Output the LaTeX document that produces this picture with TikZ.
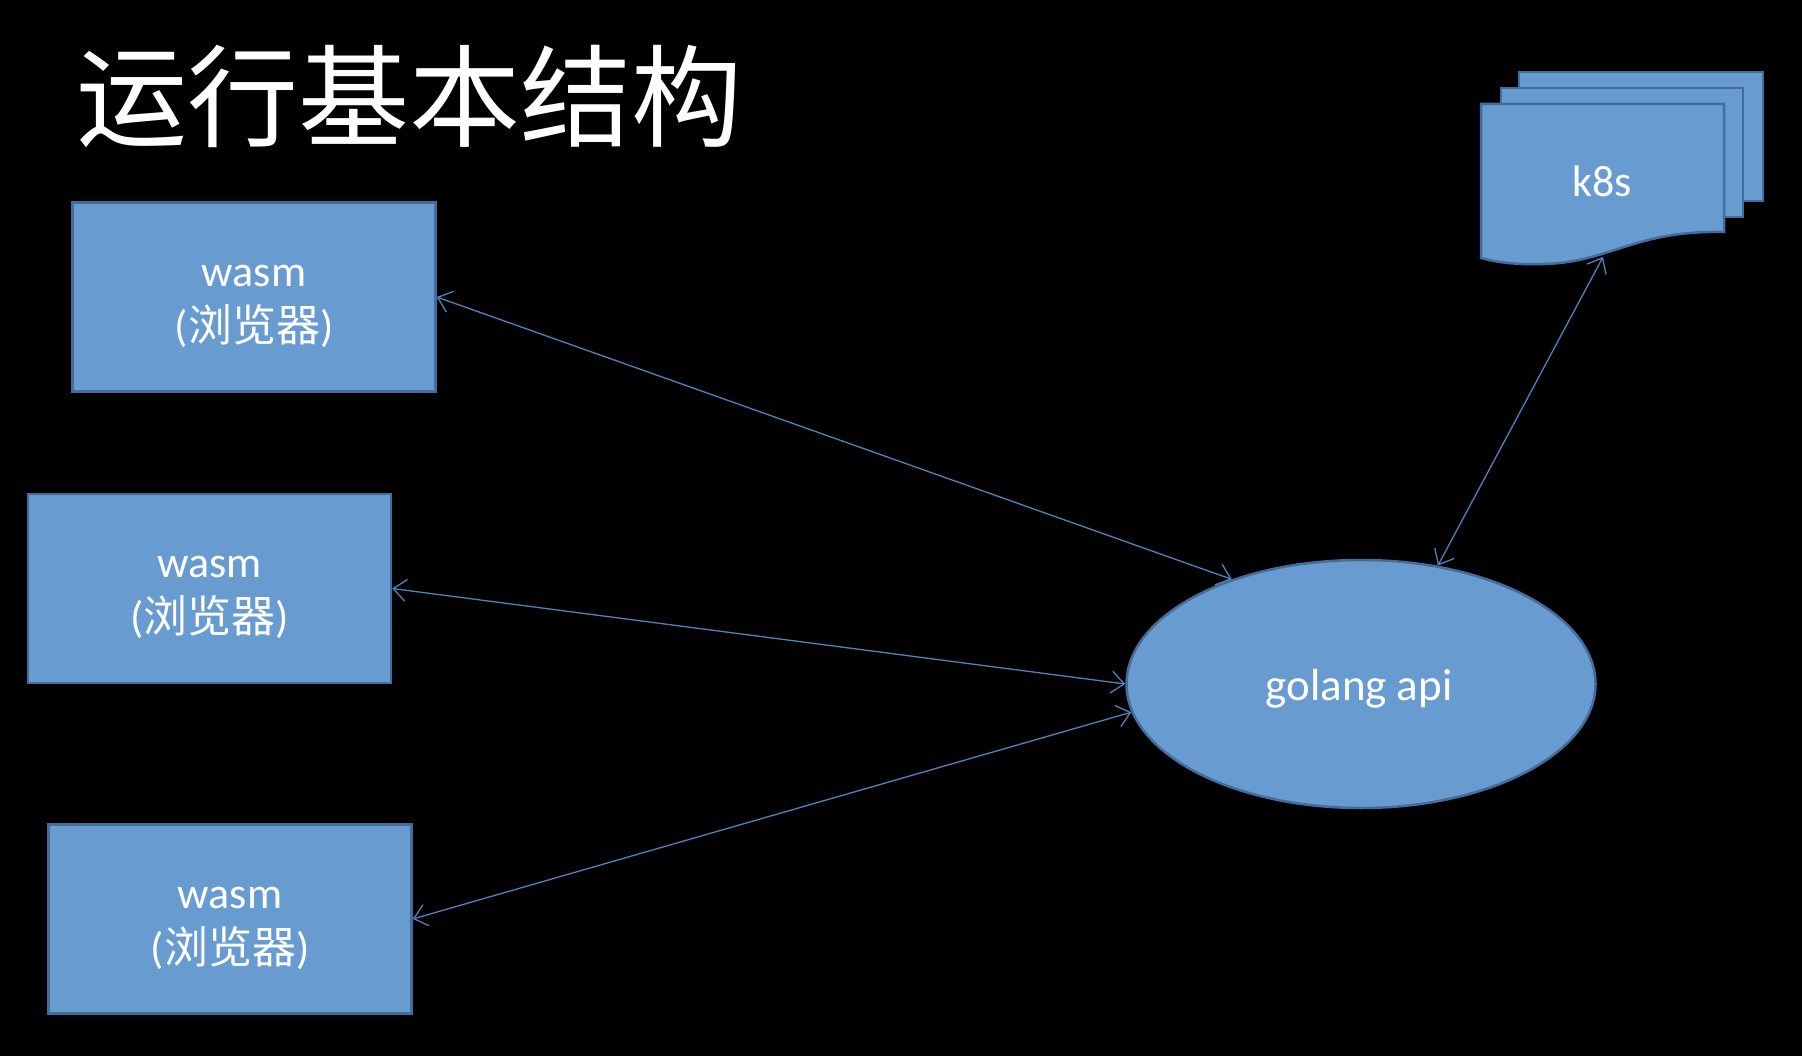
\documentclass[tikz,border=0pt]{standalone}
\usepackage{fontspec}
\setmainfont{Carlito}
\newfontfamily\cjk{Noto Sans CJK SC}
\usetikzlibrary{shapes.geometric,arrows.meta}
\definecolor{boxfill}{RGB}{104,155,208}
\definecolor{boxline}{RGB}{68,108,156}
\definecolor{conn}{RGB}{80,130,190}
\tikzset{
  wasmbox/.style={draw=boxline, line width=2.5pt, fill=boxfill, minimum width=363pt, minimum height=189pt, inner sep=0pt, text=white, font=\fontsize{44}{55}\selectfont, align=center},
  wasmtext/.style={text=white, font=\fontsize{44}{55}\selectfont, align=center, inner sep=0pt},
  apinode/.style={ellipse, draw=boxline, line width=2.5pt, fill=boxfill, minimum width=469pt, minimum height=248pt, inner sep=0pt},
  docpage/.style={draw=boxline, line width=2.5pt, fill=boxfill},
  link/.style={draw=conn, line width=1.3pt, {Straight Barb[length=13pt,width=22pt]}-{Straight Barb[length=13pt,width=22pt]}}
}
\begin{document}
\begin{tikzpicture}[x=1pt,y=-1pt]
\fill[black] (0,0) rectangle (1802,1056);
\useasboundingbox (0,0) rectangle (1802,1056);
\node[anchor=west, text=white, font=\cjk\fontsize{111}{120}\selectfont, inner sep=0pt] (title) at (76,96) {运行基本结构};
\node[wasmbox] (b1) at (254,297) {};
\node[wasmtext] (t1) at (254,306) {wasm\\({\cjk 浏览器})};
\node[wasmbox] (b2) at (209.5,588.5) {};
\node[wasmtext] (t2) at (209.5,597.5) {wasm\\({\cjk 浏览器})};
\node[wasmbox] (b3) at (230,919) {};
\node[wasmtext] (t3) at (230,928) {wasm\\({\cjk 浏览器})};
\node[apinode] (api) at (1361,684) {};
\node[text=white, font=\fontsize{45}{55}\selectfont, inner sep=0pt] (apit) at (1359,689) {golang api};
% k8s multi-document
\draw[docpage] (1519,72) rectangle (1763,201);
\draw[docpage] (1501,88) rectangle (1743,217);
\draw[docpage] (1481,104) -- (1724,104) -- (1724,232) .. controls (1635,230) and (1610,262) .. (1545,264) .. controls (1515,265) and (1495,262) .. (1481,258) -- cycle;
\node[text=white, font=\fontsize{44}{50}\selectfont, inner sep=0pt] (k8s) at (1602,181) {k8s};
\coordinate (k8sb) at (1603,257);
\draw[link] (b1.east) -- (api.141.8);
\draw[link] (b2.east) -- (api.west);
\draw[link] (b3.east) -- (api.187);
\draw[link] (k8sb) -- (api.57);
\end{tikzpicture}
\end{document}
